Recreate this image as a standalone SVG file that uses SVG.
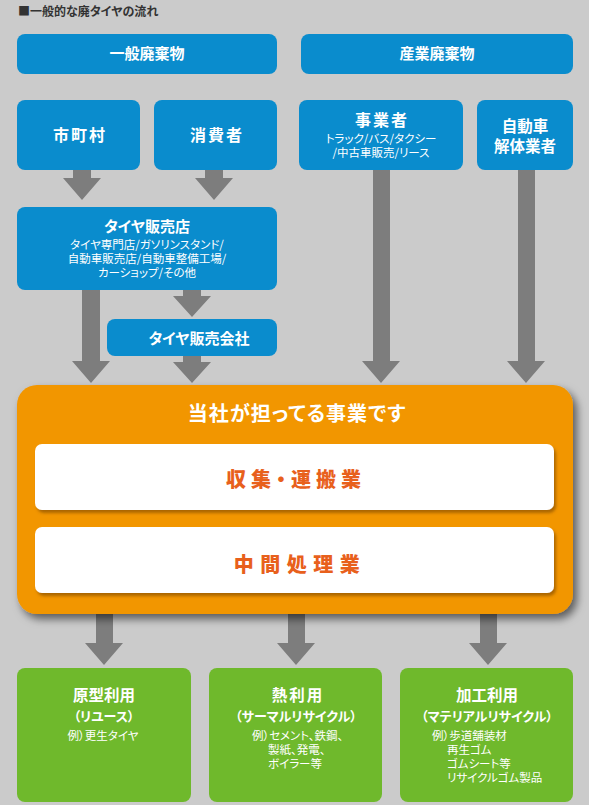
<svg xmlns="http://www.w3.org/2000/svg" width="589" height="805" viewBox="0 0 589 805">
<defs>
<filter id="shOrange" x="-10%" y="-10%" width="125%" height="130%">
<feDropShadow dx="4" dy="5" stdDeviation="4" flood-color="#000" flood-opacity="0.55"/>
</filter>
<filter id="shWhite" x="-5%" y="-10%" width="115%" height="140%">
<feDropShadow dx="2" dy="3" stdDeviation="1.5" flood-color="#7a4500" flood-opacity="0.6"/>
</filter>
</defs>
<style>
text{font-family:"Noto Sans CJK JP","Noto Sans",sans-serif;font-feature-settings:"palt";text-anchor:middle}
.blue{fill:#0a8ccd}
.green{fill:#6fb92c}
.arrow{fill:#7d7d7d}
.h{fill:#fff;font-weight:bold;font-size:15px}
.hs{fill:#fff;font-weight:bold;font-size:16px;letter-spacing:2px}
.sub{fill:#fff;font-size:11.5px}
.gt{fill:#fff;font-weight:bold;font-size:15.5px}
.gp{fill:#fff;font-weight:bold;font-size:13px}
.gs{fill:#fff;font-size:11.5px}
.gl{fill:#fff;font-size:11.5px;text-anchor:start}
.ot{fill:#e8601c;font-weight:900;font-size:20px}
</style>
<rect x="0" y="0" width="589" height="805" fill="#cbcbcb"/>
<text x="18" y="16" style="text-anchor:start;font-weight:bold;font-size:12px;fill:#333">■一般的な廃タイヤの流れ</text>

<g id="connectors">
<polygon class="arrow" points="73,170 91,170 91,178 101,178 82,200 63,178 73,178"/>
<polygon class="arrow" points="205,170 223,170 223,178 233,178 214,200 195,178 205,178"/>
<polygon class="arrow" points="82,290 100,290 100,361 110,361 91,383 72,361 82,361"/>
<polygon class="arrow" points="183,290 201,290 201,296 211,296 192,317 173,296 183,296"/>
<polygon class="arrow" points="183,356 201,356 201,362 211,362 192,383 173,362 183,362"/>
<polygon class="arrow" points="373,170 390,170 390,361 400,361 381,383 362,361 373,361"/>
<polygon class="arrow" points="518,170 535,170 535,361 545,361 526,383 507,361 518,361"/>
<polygon class="arrow" points="96,610 113,610 113,643 123,643 104,665 85,643 96,643"/>
<polygon class="arrow" points="288,610 305,610 305,643 315,643 296,665 277,643 288,643"/>
<polygon class="arrow" points="480,610 497,610 497,643 507,643 488,665 469,643 480,643"/>
</g>

<g id="ippan">
<rect class="blue" x="17" y="34" width="260" height="40" rx="8"/>
<text class="h" x="147" y="59">一般廃棄物</text>
</g>
<g id="sangyo">
<rect class="blue" x="301" y="34" width="272" height="40" rx="8"/>
<text class="h" x="437" y="59">産業廃棄物</text>
</g>
<g id="shichoson">
<rect class="blue" x="17" y="100" width="123" height="70" rx="8"/>
<text class="hs" x="80" y="141">市町村</text>
</g>
<g id="shohisha">
<rect class="blue" x="154" y="100" width="123" height="70" rx="8"/>
<text class="hs" x="217" y="141">消費者</text>
</g>
<g id="jigyosha">
<rect class="blue" x="299" y="100" width="164" height="70" rx="8"/>
<text class="hs" x="382" y="126">事業者</text>
<text class="sub"><tspan x="381" y="143">トラック/バス/タクシー</tspan><tspan x="381" y="157">/中古車販売/リース</tspan></text>
</g>
<g id="kaitai">
<rect class="blue" x="477" y="100" width="96" height="70" rx="8"/>
<text class="h" style="font-size:15.5px"><tspan x="525" y="132">自動車</tspan><tspan x="525" y="152">解体業者</tspan></text>
</g>
<g id="tire-shop">
<rect class="blue" x="17" y="207" width="260" height="83" rx="8"/>
<text class="h" x="147" y="232">タイヤ販売店</text>
<text class="sub"><tspan x="147" y="249">タイヤ専門店/ガソリンスタンド/</tspan><tspan x="147" y="263">自動車販売店/自動車整備工場/</tspan><tspan x="147" y="277">カーショップ/その他</tspan></text>
</g>
<g id="tire-company">
<rect class="blue" x="107" y="319" width="170" height="37" rx="8"/>
<text class="h" x="199" y="344">タイヤ販売会社</text>
</g>

<g id="our-business">
<rect x="17" y="385" width="556" height="229" rx="20" fill="#f29600" filter="url(#shOrange)"/>
<text x="297" y="421" style="fill:#fff;font-weight:bold;font-size:20px;letter-spacing:1px">当社が担ってる事業です</text>
<g id="collection">
<rect x="35" y="444" width="519" height="66" rx="7" fill="#fff" filter="url(#shWhite)"/>
<text class="ot" x="296" y="487" style="letter-spacing:5px">収集・運搬業</text>
</g>
<g id="intermediate">
<rect x="35" y="527" width="519" height="66" rx="7" fill="#fff" filter="url(#shWhite)"/>
<text class="ot" x="300" y="572" style="letter-spacing:6.5px">中間処理業</text>
</g>
</g>

<g id="reuse">
<rect class="green" x="17" y="668" width="174" height="134" rx="8"/>
<text class="gt" x="104" y="701">原型利用</text>
<text class="gp" x="104" y="721">（リユース）</text>
<text class="gs" x="103" y="740">例）更生タイヤ</text>
</g>
<g id="thermal">
<rect class="green" x="209" y="668" width="173" height="134" rx="8"/>
<text class="gt" x="298" y="701" style="letter-spacing:2px">熱利用</text>
<text class="gp" x="296" y="721">（サーマルリサイクル）</text>
<text class="gl"><tspan x="252" y="740">例）セメント、鉄鋼、</tspan><tspan x="268" y="754">製紙、発電、</tspan><tspan x="268" y="768">ボイラー等</tspan></text>
</g>
<g id="material">
<rect class="green" x="400" y="668" width="173" height="134" rx="8"/>
<text class="gt" x="487" y="701">加工利用</text>
<text class="gp" x="487" y="721">（マテリアルリサイクル）</text>
<text class="gl"><tspan x="432" y="740">例）歩道舗装材</tspan><tspan x="447" y="754">再生ゴム</tspan><tspan x="447" y="768">ゴムシート等</tspan><tspan x="447" y="782">リサイクルゴム製品</tspan></text>
</g>
</svg>
